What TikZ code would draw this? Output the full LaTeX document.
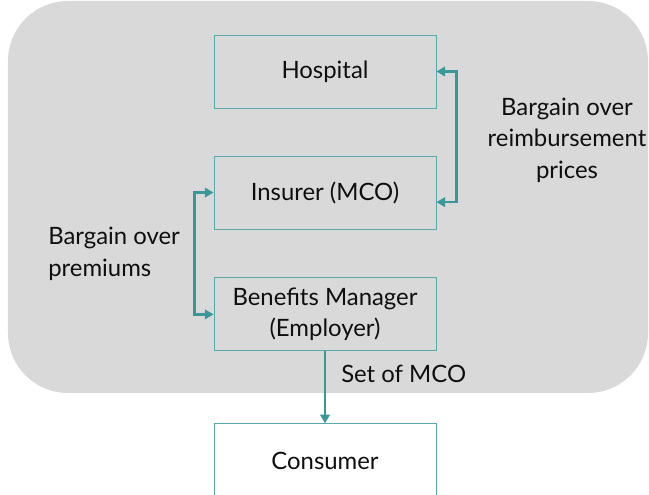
\documentclass[tikz,border=0pt]{standalone}
\usepackage{fontspec}
\setmainfont{Lato}
\definecolor{panelgray}{RGB}{217, 217, 217}
\definecolor{tealline}{RGB}{88, 170, 170}
\definecolor{tealarrow}{RGB}{60, 152, 152}
\definecolor{inktext}{RGB}{15, 15, 15}
\usetikzlibrary{arrows.meta, positioning}
\tikzset{
	party/.style={rectangle, draw=tealline, line width=0.6pt, align=center, minimum width=5.55cm, minimum height=1.825cm, text=inktext, font=\fontsize{17}{22.5}\selectfont},
	note/.style={align=center, inner sep=0pt, text=inktext, font=\fontsize{17}{22.5}\selectfont},
	bargain/.style={{Triangle[length=2.2mm, width=2.4mm]}-{Triangle[length=2.2mm, width=2.4mm]}, line width=1.8pt, draw=tealarrow},
	pass/.style={-{Triangle[length=2.2mm, width=2.4mm]}, line width=1.8pt, draw=tealarrow},
}
\begin{document}
\begin{tikzpicture}[node distance=1.18cm]
		\useasboundingbox (0,0) rectangle (16.225,12.35);
		\fill[panelgray, rounded corners=1.5cm] (0.2,2.525) rectangle (16.2,12.325);
		\node[party] (hosp) at (8.125,10.5625) {Hospital};
		\node[party, below=of hosp] (ins) {Insurer (MCO)};
		\node[party, below=1.2cm of ins] (mgr) {Benefits Manager\\(Employer)};
		\node[party, fill=white, below=1.8cm of mgr, anchor=north, minimum height=1.85cm] (cons) {Consumer};
		\draw[bargain] (hosp.east) -- ++(0.5,0) |- ([yshift=-0.24cm]ins.east);
		\draw[bargain] (ins.west) -- ++(-0.475,0) |- (mgr.west);
		\draw[pass] (mgr.south) -- (cons.north) node[note, pos=0.32, anchor=west, xshift=0.375cm] (setlbl) {Set of MCO};
		\node[note] (pricelbl) at (14.175,8.85) {Bargain over\\reimbursement\\prices};
		\node[note, align=left, anchor=west] (premlbl) at (1.2,6.01) {Bargain over\\premiums};
	\end{tikzpicture}
\end{document}
